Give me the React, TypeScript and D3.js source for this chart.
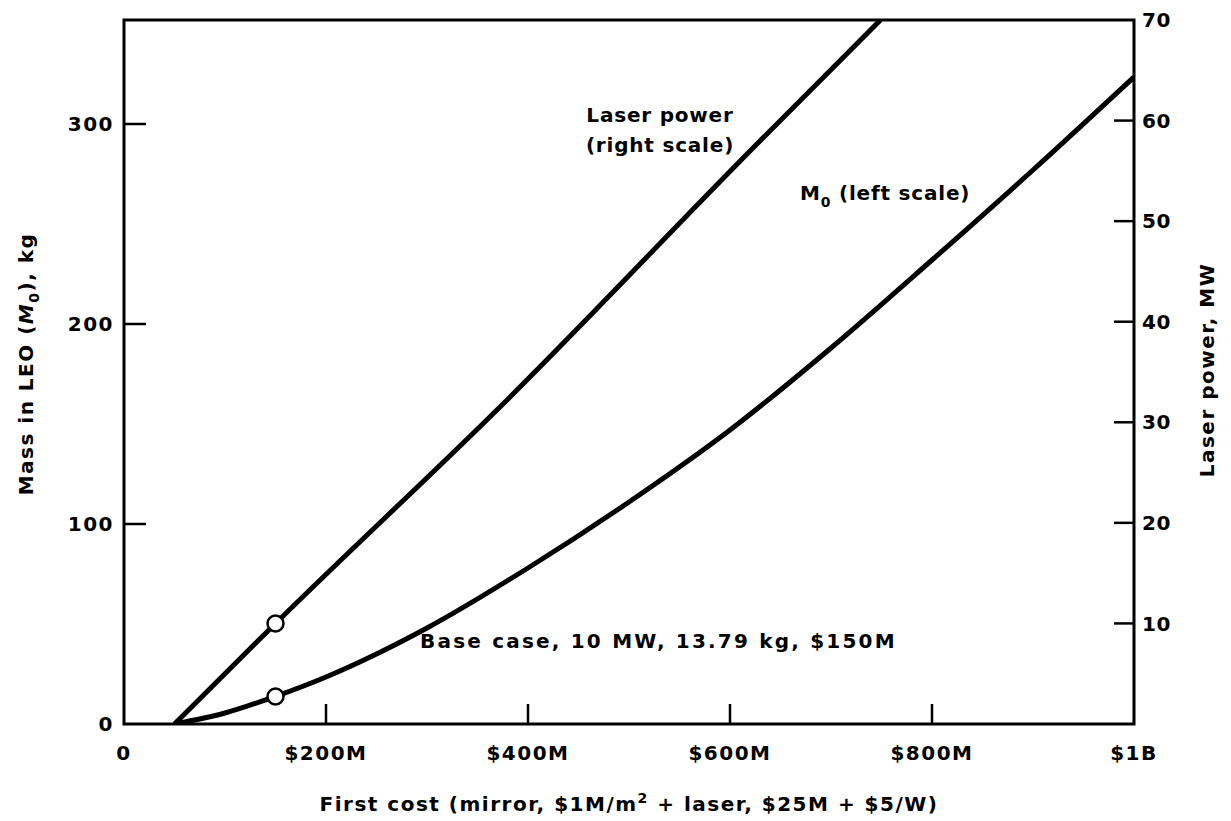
import React from 'react';
import * as d3 from 'd3';

// M0 (left scale), first cost in $M vs mass in kg
const m0Cost = [50, 100, 150, 200, 250, 300, 400, 500, 600, 700, 800, 900, 1000];
const m0Mass = [0, 5.5, 13.79, 23.5, 35, 48, 78, 111, 147, 188, 232, 277, 323.5];

// Laser power (right scale), first cost in $M vs MW
const laserCost = [50, 150, 379, 623, 749];
const laserPower = [0, 10, 32.2, 57.3, 70];

// base case markers
const baseCost = 150;
const baseMass = 13.79;
const basePower = 10;

const xTicks = [0, 200, 400, 600, 800, 1000];
const xTickLabels = ['0', '$200M', '$400M', '$600M', '$800M', '$1B'];
const leftTicks = [0, 100, 200, 300];
const rightTicks = [10, 20, 30, 40, 50, 60, 70];

const W = 1231;
const H = 821;
const font = '"DejaVu Sans", sans-serif';

export default function App() {
  const x = d3.scaleLinear().domain([0, 1000]).range([124, 1134]);
  const yL = d3.scaleLinear().domain([0, 352]).range([724, 20]);
  const yR = d3.scaleLinear().domain([0, 70]).range([724, 20]);

  const m0Line = d3
    .line<number>()
    .curve(d3.curveMonotoneX)
    .x((_, i) => x(m0Cost[i]))
    .y((d) => yL(d));

  const laserLine = d3
    .line<number>()
    .curve(d3.curveMonotoneX)
    .x((_, i) => x(laserCost[i]))
    .y((d) => yR(d));

  const [x0, x1] = x.range();
  const top = yR(70);
  const bottom = yL(0);

  return (
    <svg
      width={W}
      height={H}
      style={{ position: 'absolute', left: 0, top: 0, background: '#fff' }}
      fontFamily={font}
      fontWeight="bold"
      fontSize={20}
      letterSpacing={1.5}
    >
      <defs>
        <clipPath id="plot">
          <rect x={x0} y={top} width={x1 - x0} height={bottom - top} />
        </clipPath>
      </defs>

      {/* frame */}
      <rect x={x0} y={top} width={x1 - x0} height={bottom - top} fill="none" stroke="#000" strokeWidth={3} />

      {/* x ticks */}
      {xTicks.slice(1, -1).map((t) => (
        <line key={t} x1={x(t)} x2={x(t)} y1={bottom} y2={bottom - 20} stroke="#000" strokeWidth={2.5} />
      ))}
      {xTicks.map((t, i) => (
        <text key={t} x={x(t)} y={760} textAnchor="middle">
          {xTickLabels[i]}
        </text>
      ))}

      {/* left ticks */}
      {leftTicks.slice(1).map((t) => (
        <line key={t} x1={x0} x2={x0 + 22} y1={yL(t)} y2={yL(t)} stroke="#000" strokeWidth={2.5} />
      ))}
      {leftTicks.map((t) => (
        <text key={t} x={114} y={yL(t)} dy="0.36em" textAnchor="end">
          {t}
        </text>
      ))}

      {/* right ticks */}
      {rightTicks.slice(0, -1).map((t) => (
        <line key={t} x1={x1 - 20} x2={x1} y1={yR(t)} y2={yR(t)} stroke="#000" strokeWidth={2.5} />
      ))}
      {rightTicks.map((t) => (
        <text key={t} x={1142} y={yR(t)} dy="0.36em" textAnchor="start" letterSpacing={0.5}>
          {t}
        </text>
      ))}

      {/* curves */}
      <g clipPath="url(#plot)">
        <path d={laserLine(laserPower) || ''} fill="none" stroke="#000" strokeWidth={5} />
        <path d={m0Line(m0Mass) || ''} fill="none" stroke="#000" strokeWidth={5} />
      </g>
      <circle cx={x(baseCost)} cy={yR(basePower)} r={8} fill="#fff" stroke="#000" strokeWidth={2.5} />
      <circle cx={x(baseCost)} cy={yL(baseMass)} r={8} fill="#fff" stroke="#000" strokeWidth={2.5} />

      {/* annotations */}
      <g letterSpacing={0.8}>
        <text x={660} y={122} textAnchor="middle">Laser power</text>
        <text x={660} y={152} textAnchor="middle">(right scale)</text>
        <text x={800} y={200}>
          M<tspan fontSize={14} dy={7}>0</tspan>
          <tspan dy={-7}> (left scale)</tspan>
        </text>
      </g>
      <text x={420} y={648} letterSpacing={2.2}>Base case, 10 MW, 13.79 kg, $150M</text>

      {/* axis titles */}
      <text x={629} y={811} textAnchor="middle">
        First cost (mirror, $1M/m<tspan fontSize={14} dy={-8}>2</tspan>
        <tspan dy={8}> + laser, $25M + $5/W)</tspan>
      </text>
      <text transform="translate(33,364) rotate(-90)" textAnchor="middle">
        Mass in LEO (<tspan fontStyle="italic">M</tspan>
        <tspan fontSize={14} dy={6}>0</tspan>
        <tspan dy={-6}>), kg</tspan>
      </text>
      <text transform="translate(1214,370) rotate(-90)" textAnchor="middle">
        Laser power, MW
      </text>
    </svg>
  );
}
